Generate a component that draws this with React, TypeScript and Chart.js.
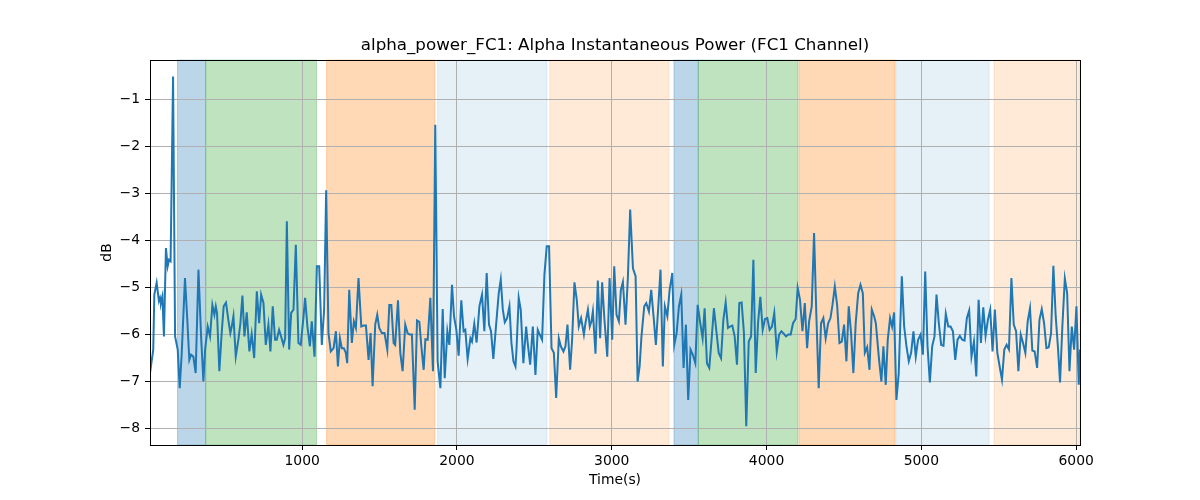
import { useEffect, useRef } from "react"
import { Chart, registerables } from "chart.js"

Chart.register(...registerables)

// time stamps (s) and alpha power (dB)
const times = [
  17, 38, 45, 60, 75, 82, 88, 97, 107, 120, 131, 140, 150, 166, 179, 196, 209, 222, 243, 258,
  271, 282, 297, 312, 330, 347, 362, 373, 390, 405, 420, 433, 442, 450, 465, 480, 493, 508, 523, 536,
  545, 556, 571, 588, 601, 614, 627, 642, 659, 674, 690, 707, 722, 735, 750, 765, 782, 795, 810, 825,
  836, 851, 864, 879, 890, 901, 916, 929, 944, 959, 976, 991, 1009, 1019, 1034, 1050, 1062, 1080, 1095, 1110,
  1127, 1142, 1155, 1170, 1185, 1203, 1218, 1231, 1244, 1256, 1269, 1282, 1291, 1304, 1321, 1334, 1347, 1364, 1382, 1397,
  1412, 1429, 1442, 1455, 1472, 1485, 1498, 1515, 1532, 1550, 1563, 1576, 1591, 1601,
  1606, 1619, 1634, 1649, 1666, 1681, 1694, 1709, 1727, 1742, 1757, 1770, 1785, 1796, 1811, 1828, 1845, 1860, 1875, 1893,
  1908, 1921, 1938, 1951, 1968, 1981, 1996, 2011, 2028, 2043, 2054, 2069, 2087, 2097, 2112, 2127, 2145, 2162, 2177, 2192,
  2207, 2220, 2235, 2253, 2270, 2283, 2296, 2309, 2324, 2339, 2352, 2365, 2378,
  2384, 2399, 2412, 2429, 2447, 2457, 2473, 2490, 2507, 2522, 2535, 2550, 2565, 2580, 2595, 2611, 2626, 2641, 2658, 2671,
  2688, 2701, 2714, 2731, 2744, 2759, 2774, 2787, 2802, 2820, 2830, 2846, 2858, 2869, 2878, 2895, 2910, 2925, 2938, 2953,
  2971, 2986, 3003, 3016, 3031, 3046, 3059, 3072, 3089, 3104, 3119, 3137, 3154,
  3167, 3180, 3192, 3210, 3223, 3240, 3255, 3270, 3285, 3300, 3315, 3330, 3343, 3359, 3374, 3391, 3404, 3419, 3434, 3449,
  3464, 3479, 3494, 3509, 3524, 3540, 3555, 3572, 3587, 3600, 3615, 3630, 3645, 3660, 3675, 3691, 3706, 3721, 3736, 3751,
  3764, 3779, 3794, 3809, 3824, 3839, 3854, 3869, 3885, 3900, 3915, 3930,
  3945, 3960, 3975, 3990, 4005, 4020, 4035, 4050, 4066, 4081, 4096, 4111, 4126, 4141, 4156, 4171, 4188, 4201, 4216, 4232,
  4247, 4262, 4275, 4292, 4307, 4322, 4337, 4352, 4367, 4382, 4398, 4413, 4426, 4441, 4456, 4471, 4486, 4501, 4516, 4531,
  4546, 4561, 4576, 4592, 4607, 4622, 4635, 4650, 4665, 4680, 4695, 4706,
  4727, 4742, 4755, 4770, 4783, 4798, 4811, 4824, 4839, 4854, 4874, 4889, 4904, 4919, 4934, 4949, 4964, 4979, 4995, 5010,
  5025, 5040, 5055, 5070, 5085, 5098, 5113, 5128, 5143, 5158, 5174, 5189, 5204, 5219, 5234, 5249, 5264, 5279, 5294, 5309,
  5324, 5340, 5355, 5370, 5385, 5400, 5415, 5430, 5445, 5460, 5475,
  5491, 5506, 5521, 5536, 5551, 5566, 5582, 5597, 5612, 5627, 5642, 5657, 5672, 5687, 5702, 5717, 5732, 5748, 5763, 5778,
  5793, 5808, 5823, 5838, 5853, 5868, 5883, 5896, 5911, 5927, 5942, 5957, 5972, 5987, 6002, 6017, 6025,
]

const power = [
  -6.83, -6.33, -5.16, -4.91, -5.3, -5.23, -5.33, -5.2, -6.05, -4.17, -4.56, -4.42, -4.45, -0.52, -6.05, -6.33, -7.15, -6.4, -4.81, -5.7,
  -6.55, -6.44, -6.48, -6.83, -4.63, -6.05, -7.01, -6.33, -5.84, -6.05, -5.38, -5.59, -5.41, -5.55, -6.79, -5.98, -5.41, -5.33, -5.7, -5.98,
  -5.84, -5.62, -6.48, -6.12, -5.77, -5.18, -6.05, -5.54, -6.37, -6.0, -6.51, -5.09, -5.77, -5.16, -5.34, -6.23, -5.8, -6.37, -5.41, -6.12,
  -6.12, -5.91, -6.05, -6.23, -6.09, -3.6, -6.33, -5.55, -5.48, -4.1, -6.19, -6.23, -5.62, -5.23, -5.84, -6.26, -5.73, -6.48, -4.56, -4.56,
  -6.23, -5.48, -2.94, -5.98, -6.37, -6.3, -5.94, -6.69, -6.09, -6.3, -6.3, -6.4, -6.62, -5.06, -6.19, -5.73, -5.87, -4.81, -5.84, -5.82,
  -5.82, -6.55, -5.98, -7.11, -5.8, -5.59, -5.87, -5.98, -5.98, -6.33, -5.38, -5.38, -6.19, -6.23,
  -6.23, -5.28, -6.4, -6.79, -5.8, -5.98, -6.01, -6.01, -7.61, -5.71, -5.74, -6.26, -6.76, -6.11, -6.12, -5.23, -6.79, -1.55, -6.58, -7.15,
  -5.47, -6.94, -5.94, -6.23, -4.95, -5.62, -5.91, -6.46, -5.28, -5.94, -5.91, -6.53, -6.09, -6.16, -5.78, -6.18, -5.41, -5.16, -5.94, -4.7,
  -5.8, -5.94, -6.53, -5.8, -5.13, -4.84, -5.47, -5.75, -5.66, -5.41, -6.19, -6.58, -6.69,
  -6.37, -5.23, -5.48, -6.62, -5.84, -6.19, -6.65, -5.84, -6.87, -5.91, -6.01, -6.12, -4.74, -4.13, -4.13, -6.3, -6.4, -7.36, -6.09, -6.26,
  -6.37, -6.26, -5.8, -6.76, -6.12, -4.9, -5.27, -5.84, -5.66, -6.01, -5.77, -5.48, -5.84, -5.73, -5.52, -6.42, -4.86, -6.09, -4.9, -5.7,
  -6.48, -4.81, -6.12, -4.56, -5.59, -5.73, -5.06, -4.89, -5.8, -4.81, -3.35, -4.6, -4.77,
  -7.01, -6.69, -6.05, -5.41, -5.34, -5.52, -5.06, -5.62, -6.23, -5.45, -4.63, -6.69, -5.41, -5.62, -5.06, -4.7, -6.23, -5.98, -5.41, -5.16,
  -6.72, -5.8, -7.4, -6.33, -6.44, -6.62, -5.38, -5.77, -6.09, -5.45, -6.62, -6.72, -6.12, -5.45, -5.91, -6.4, -6.51, -5.7, -5.33, -5.87,
  -5.84, -5.82, -6.05, -6.65, -5.34, -5.33, -5.98, -7.96, -6.16, -6.05, -4.42, -6.83,
  -5.77, -5.21, -5.91, -5.68, -5.66, -5.91, -5.84, -5.55, -6.37, -6.01, -5.94, -5.99, -6.05, -6.01, -6.01, -5.77, -5.68, -5.02, -5.27, -5.94,
  -5.34, -6.3, -5.73, -5.41, -3.85, -5.62, -7.15, -5.77, -5.66, -6.09, -5.77, -5.66, -5.38, -4.99, -5.38, -6.19, -6.16, -5.8, -6.58, -5.41,
  -5.98, -6.83, -5.77, -5.13, -4.95, -5.13, -6.4, -6.28, -6.76, -5.48, -5.62, -5.77,
  -6.55, -7.01, -6.26, -7.08, -6.12, -5.66, -5.84, -5.54, -7.4, -6.83, -4.77, -5.84, -6.26, -6.58, -6.4, -5.94, -6.48, -6.12, -6.01, -6.44,
  -4.67, -6.26, -7.03, -6.26, -6.05, -5.16, -5.77, -6.23, -6.25, -5.57, -5.84, -5.84, -5.94, -6.55, -6.12, -6.04, -6.12, -6.14, -5.66, -5.5,
  -6.48, -6.16, -6.9, -5.27, -6.19, -5.43, -6.04, -5.7, -5.48, -6.37, -5.48,
  -6.4, -6.69, -6.97, -6.33, -6.23, -6.33, -4.81, -5.8, -5.94, -6.79, -6.01, -6.19, -6.4, -5.73, -5.45, -6.35, -6.37, -6.72, -5.7, -5.47,
  -5.77, -6.3, -6.28, -5.98, -4.55, -5.62, -6.3, -7.03, -5.84, -4.82, -5.13, -6.79, -5.84, -6.33, -5.41, -7.08, -6.33,
]

// shaded condition blocks
const spanStart = [195, 377, 1158, 1875, 2600, 3402, 3559, 4210, 4835, 5470]
const spanEnd = [377, 1093, 1857, 2581, 3370, 3559, 4203, 4830, 5438, 6025]
const spanKind = ["A", "B", "C", "D", "E", "A", "B", "C", "D", "E"]

const xTicks = [1000, 2000, 3000, 4000, 5000, 6000]
const yTicks = [-8, -7, -6, -5, -4, -3, -2, -1]

const spanColors: Record<string, string> = {
  A: "rgba(31, 119, 180, 0.3)",
  B: "rgba(44, 160, 44, 0.3)",
  C: "rgba(255, 127, 14, 0.3)",
  D: "rgba(31, 119, 180, 0.11)",
  E: "rgba(255, 127, 14, 0.16)",
}

const FONT = "'DejaVu Sans', sans-serif"

const decor = {
  id: "decor",
  beforeDraw(chart: any) {
    const { ctx, chartArea, scales } = chart
    ctx.save()
    for (let i = 0; i < spanStart.length; i++) {
      const x0 = scales.x.getPixelForValue(spanStart[i])
      const x1 = Math.min(scales.x.getPixelForValue(spanEnd[i]), chartArea.right)
      ctx.fillStyle = spanColors[spanKind[i]]
      ctx.fillRect(x0, chartArea.top, x1 - x0, chartArea.bottom - chartArea.top)
      ctx.strokeStyle = spanColors[spanKind[i]]
      ctx.lineWidth = 1
      ctx.strokeRect(x0, chartArea.top, x1 - x0, chartArea.bottom - chartArea.top)
    }
    ctx.restore()
  },
  afterDraw(chart: any) {
    const { ctx, chartArea } = chart
    ctx.save()
    ctx.strokeStyle = "#000"
    ctx.lineWidth = 1
    ctx.strokeRect(
      Math.round(chartArea.left) + 0.5,
      Math.round(chartArea.top) + 0.5,
      Math.round(chartArea.right - chartArea.left),
      Math.round(chartArea.bottom - chartArea.top)
    )
    ctx.fillStyle = "#000"
    ctx.font = `16.7px ${FONT}`
    ctx.textAlign = "center"
    ctx.textBaseline = "middle"
    ctx.fillText(
      "alpha_power_FC1: Alpha Instantaneous Power (FC1 Channel)",
      (chartArea.left + chartArea.right) / 2,
      46
    )
    ctx.restore()
  },
}

export default function App() {
  const canvasRef = useRef<HTMLCanvasElement>(null)
  const chartRef = useRef<Chart | null>(null)

  useEffect(() => {
    document.body.style.margin = "0"
    if (!canvasRef.current) return
    if (chartRef.current) chartRef.current.destroy()

    const points = times.map((t, i) => ({ x: t, y: power[i] }))

    chartRef.current = new Chart(canvasRef.current, {
      type: "line",
      data: {
        datasets: [
          {
            label: "alpha_power_FC1",
            data: points,
            borderColor: "#1f77b4",
            borderWidth: 2,
            pointRadius: 0,
            tension: 0,
            fill: false,
          },
        ],
      },
      plugins: [decor],
      options: {
        animation: false,
        responsive: true,
        maintainAspectRatio: false,
        layout: { padding: { top: 60, right: 120, left: 0, bottom: 0 } },
        plugins: {
          legend: { display: false },
          tooltip: { enabled: false },
        },
        scales: {
          x: {
            type: "linear",
            min: 17,
            max: 6025,
            afterBuildTicks: (scale: any) => {
              scale.ticks = xTicks.map((value) => ({ value }))
            },
            afterFit: (scale: any) => {
              scale.height = 55
            },
            border: { display: false },
            grid: { color: "#b0b0b0", lineWidth: 1, tickLength: 5, tickColor: "#000" },
            ticks: {
              color: "#000",
              padding: 3,
              autoSkip: false,
              maxRotation: 0,
              font: { family: FONT, size: 13.9 },
              callback: (v: any) => String(v),
            },
            title: {
              display: true,
              text: "Time(s)",
              color: "#000",
              font: { family: FONT, size: 13.9 },
              padding: { top: 0, bottom: 11 },
            },
          },
          y: {
            type: "linear",
            min: -8.36,
            max: -0.17,
            afterBuildTicks: (scale: any) => {
              scale.ticks = yTicks.map((value) => ({ value }))
            },
            afterFit: (scale: any) => {
              scale.width = 150
            },
            border: { display: false },
            grid: { color: "#b0b0b0", lineWidth: 1, tickLength: 5, tickColor: "#000" },
            ticks: {
              color: "#000",
              padding: 5,
              autoSkip: false,
              font: { family: FONT, size: 13.9 },
              callback: (v: any) => String(v).replace("-", "\u2212"),
            },
            title: {
              display: true,
              text: "dB",
              color: "#000",
              font: { family: FONT, size: 13.9 },
              padding: { top: 99, bottom: 0 },
            },
          },
        },
      },
    })

    return () => {
      if (chartRef.current) {
        chartRef.current.destroy()
        chartRef.current = null
      }
    }
  }, [])

  return (
    <div style={{ width: 1200, height: 500, position: "relative" }}>
      <canvas ref={canvasRef} />
    </div>
  )
}
